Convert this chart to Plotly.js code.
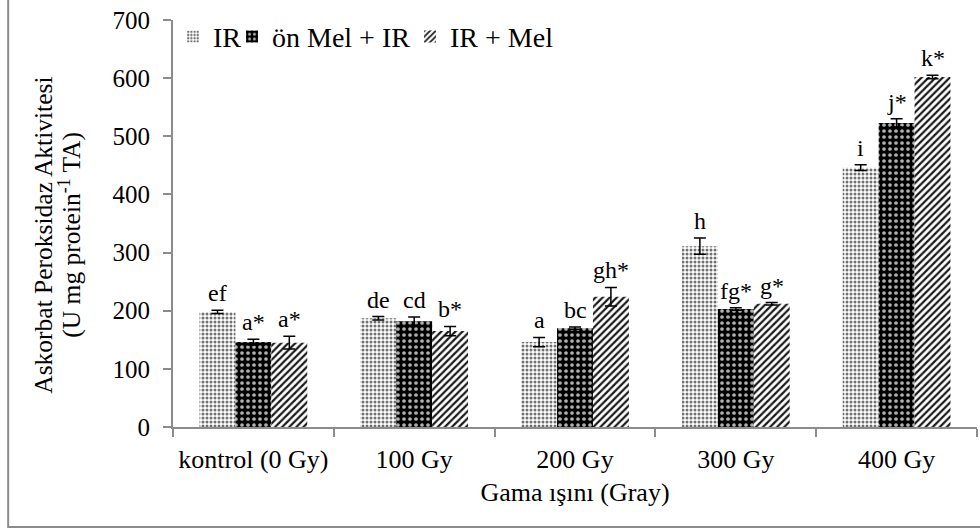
<!DOCTYPE html>
<html>
<head>
<meta charset="utf-8">
<script src="https://cdn.plot.ly/plotly-3.0.1.min.js"></script>
<style>
  html, body { margin: 0; padding: 0; background: #ffffff; }
  #chart { width: 980px; height: 529px; }
</style>
</head>
<body>
<div id="chart"></div>
<script>
// Radiation dose groups
const categories = ["kontrol (0 Gy)", "100 Gy", "200 Gy", "300 Gy", "400 Gy"];

// Ascorbate peroxidase activity (U mg protein-1 TA), mean and error
const irValues = [198, 187, 146, 311, 446];
const irErrors = [3, 3, 8, 14, 5];
const preMelValues = [146, 182, 170, 203, 523];
const preMelErrors = [5, 7, 2, 2, 7];
const irMelValues = [145, 165, 224, 212, 602];
const irMelErrors = [11, 8, 16, 2, 3];

// Significance letters above each bar
const irLetters = ["ef", "de", "a", "h", "i"];
const preMelLetters = ["a*", "cd", "bc", "fg*", "j*"];
const irMelLetters = ["a*", "b*", "gh*", "g*", "k*"];

const seriesNames = ["IR", "ön Mel + IR", "IR + Mel"];
const yTicks = [0, 100, 200, 300, 400, 500, 600, 700];
const yTitleLines = ["Askorbat Peroksidaz Aktivitesi", "(U mg protein<sup>-1</sup> TA)"];
const xTitle = "Gama ışını (Gray)";

const FONT = "Liberation Serif";

const series = [
  { name: seriesNames[0], y: irValues, err: irErrors, letters: irLetters, legend: "legend",
    marker: { color: "#ffffff", line: { width: 0 },
      pattern: { shape: ".", fgcolor: "#707070", bgcolor: "#ffffff", size: 4, solidity: 0.45, fillmode: "replace" } } },
  { name: seriesNames[1], y: preMelValues, err: preMelErrors, letters: preMelLetters, legend: "legend2",
    marker: { color: "#000000", line: { width: 0 },
      pattern: { shape: ".", fgcolor: "#b0b0b0", bgcolor: "#000000", size: 6, solidity: 0.3, fillmode: "replace" } } },
  { name: seriesNames[2], y: irMelValues, err: irMelErrors, letters: irMelLetters, legend: "legend3",
    marker: { color: "#ffffff", line: { width: 0 },
      pattern: { shape: "/", fgcolor: "#1a1a1a", bgcolor: "#ffffff", size: 5, solidity: 0.45, fillmode: "replace" } } }
];

const traces = series.map(s => ({
  type: "bar",
  name: s.name,
  legend: s.legend,
  x: categories,
  y: s.y,
  marker: s.marker,
  error_y: { type: "data", array: s.err, visible: true, color: "#000000", thickness: 1.5, width: 6 },
  hoverinfo: "skip"
}));

// Letters sit just above each error bar; offsets follow the grouped bar layout
const bargap = 0.33;
const barW = (1 - bargap) / series.length;
const annotations = [];
series.forEach((s, si) => {
  const offset = (si - (series.length - 1) / 2) * barW;
  s.y.forEach((v, ci) => {
    annotations.push({
      xref: "x", yref: "y",
      x: ci + offset, y: v + s.err[ci],
      text: s.letters[ci],
      showarrow: false,
      yanchor: "bottom",
      yshift: 2,
      font: { family: FONT, size: 24, color: "#000000" }
    });
  });
});

// Two-line rotated y-axis title, each line placed on its own
const yTitleX = [-0.162, -0.1285];
yTitleLines.forEach((t, i) => {
  annotations.push({
    xref: "paper", yref: "paper",
    x: yTitleX[i], y: 0.4717,
    xanchor: "center", yanchor: "middle",
    text: t,
    textangle: -90,
    showarrow: false,
    font: { family: FONT, size: 25.5, color: "#000000" }
  });
});

// One legend box per series so the entries sit in a tight row
function legendBox(x) {
  return {
    orientation: "h",
    x: x, xanchor: "left",
    y: 1.02, yanchor: "top",
    bgcolor: "rgba(0,0,0,0)",
    font: { family: FONT, size: 28, color: "#000000" },
    itemwidth: 30
  };
}

const layout = {
  width: 980,
  height: 529,
  margin: { l: 173, r: 3, t: 20, b: 102 },
  paper_bgcolor: "#ffffff",
  plot_bgcolor: "rgba(0,0,0,0)",
  barmode: "group",
  bargap: bargap,
  bargroupgap: 0,
  font: { family: FONT, color: "#000000" },
  showlegend: true,
  legend: legendBox(0.0),
  legend2: legendBox(0.0734),
  legend3: legendBox(0.2948),
  xaxis: {
    type: "category",
    showline: true,
    linecolor: "#8c8c8c",
    linewidth: 2,
    ticks: "outside",
    tickson: "boundaries",
    ticklen: 8,
    tickcolor: "#8c8c8c",
    tickwidth: 2,
    showgrid: false,
    ticklabelstandoff: 8,
    tickfont: { family: FONT, size: 26, color: "#000000" },
    title: { text: xTitle, font: { family: FONT, size: 26, color: "#000000" }, standoff: 10 }
  },
  yaxis: {
    range: [0, 700],
    tickvals: yTicks,
    showline: true,
    linecolor: "#8c8c8c",
    linewidth: 2,
    ticks: "outside",
    ticklen: 8,
    tickcolor: "#8c8c8c",
    tickwidth: 2,
    showgrid: false,
    zeroline: false,
    ticklabelstandoff: 8,
    tickfont: { family: FONT, size: 25, color: "#000000" }
  },
  annotations: annotations,
  shapes: [
    // frame around the chart
    { type: "rect", xref: "paper", yref: "paper", x0: -0.205, x1: 1.2, y0: -0.2457, y1: 1.2,
      line: { color: "#8c8c8c", width: 2 }, fillcolor: "rgba(0,0,0,0)", layer: "below" }
  ]
};

Plotly.newPlot("chart", traces, layout, { displayModeBar: false, staticPlot: true });
</script>
</body>
</html>
